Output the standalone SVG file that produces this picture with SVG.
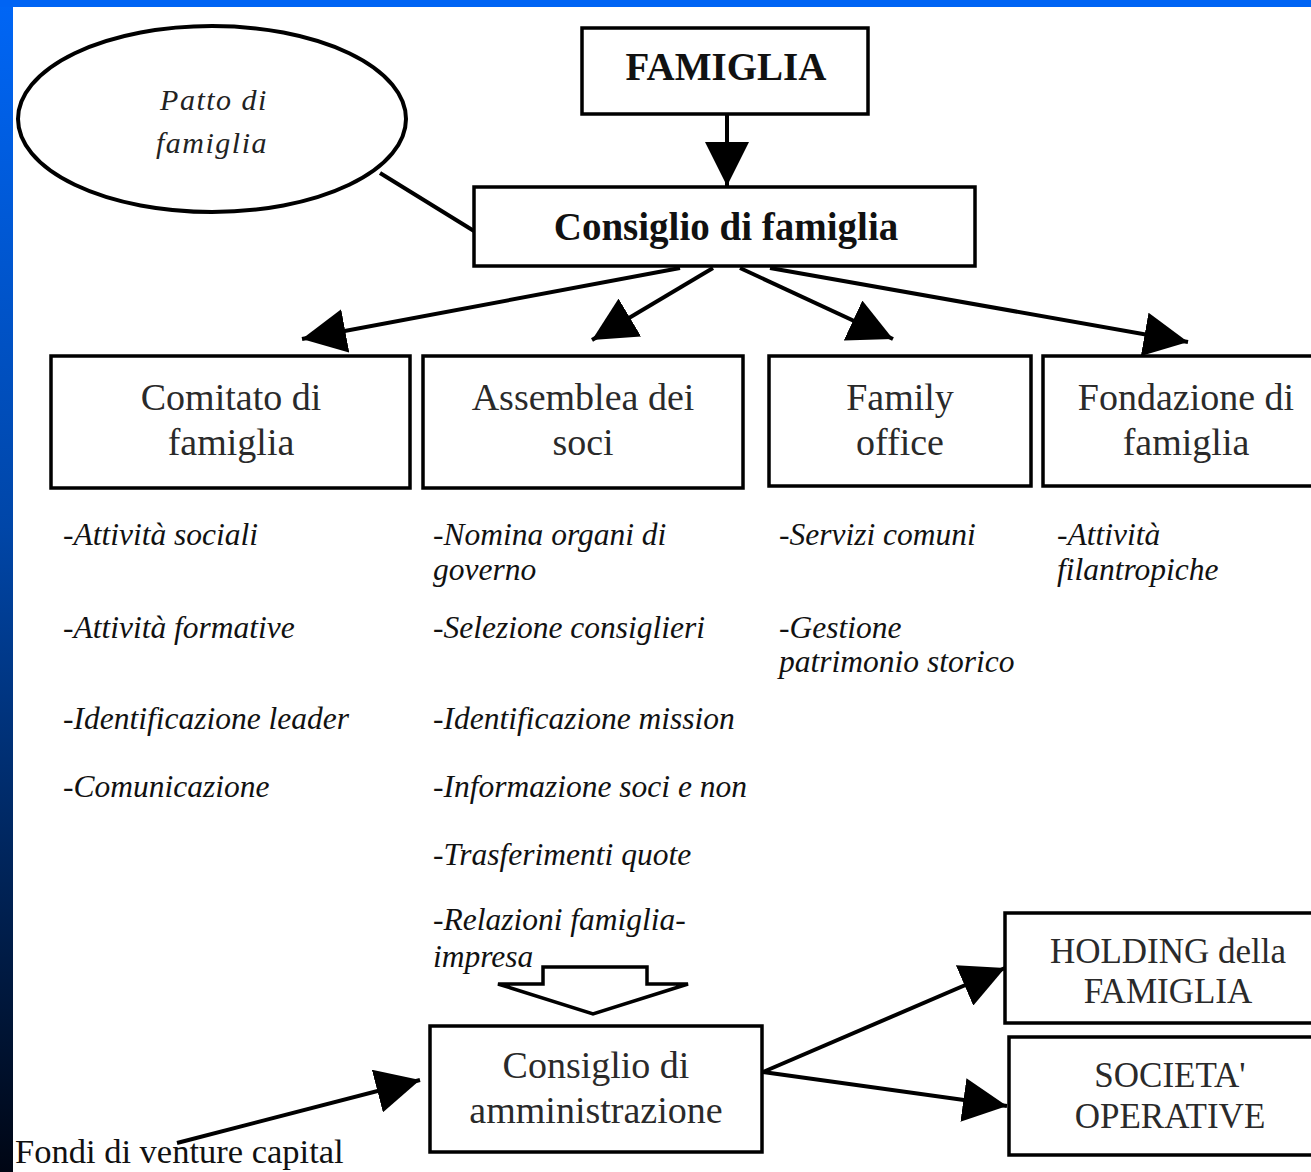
<svg xmlns="http://www.w3.org/2000/svg" width="1311" height="1172" viewBox="0 0 1311 1172">
  <defs>
    <linearGradient id="bg" x1="0" y1="0" x2="0" y2="1">
      <stop offset="0" stop-color="#0066f6"/>
      <stop offset="0.45" stop-color="#0046a8"/>
      <stop offset="1" stop-color="#000614"/>
    </linearGradient>
    <marker id="ah" viewBox="0 0 44 44" refX="44" refY="22" markerWidth="44" markerHeight="44" markerUnits="userSpaceOnUse" orient="auto">
      <path d="M0,0 L44,22 L0,44 z" fill="#000"/>
    </marker>
    <style>
      .box { fill: #fff; stroke: #000; stroke-width: 3.5; }
      .conn { stroke: #000; stroke-width: 4; fill: none; }
      .arrow { stroke: #000; stroke-width: 4; fill: none; marker-end: url(#ah); }
      .title { font-family: "Liberation Serif", "Times New Roman", serif; font-weight: bold; font-size: 39px; fill: #111; text-anchor: middle; }
      .lbl { font-family: "Liberation Serif", "Times New Roman", serif; font-size: 38px; fill: #2a2a2a; text-anchor: middle; }
      .lbl2 { font-family: "Liberation Serif", "Times New Roman", serif; font-size: 35px; fill: #2a2a2a; text-anchor: middle; }
      .item { font-family: "Liberation Serif", "Times New Roman", serif; font-style: italic; font-size: 31.5px; fill: #111; }
      .patto { font-family: "Liberation Serif", "Times New Roman", serif; font-style: italic; font-size: 30px; fill: #222; text-anchor: middle; letter-spacing: 1.5px; }
      .fondi { font-family: "Liberation Serif", "Times New Roman", serif; font-size: 34.5px; fill: #111; }
    </style>
  </defs>

  <rect x="0" y="0" width="1311" height="1172" fill="url(#bg)"/>
  <rect x="0" y="0" width="1311" height="7" fill="#0064f4"/>
  <rect x="13" y="7" width="1298" height="1165" fill="#fff"/>

  <g id="connectors">
    <line class="conn" x1="380" y1="173" x2="474" y2="231"/>
    <line class="arrow" x1="727" y1="114" x2="727" y2="186"/>
    <line class="arrow" x1="680" y1="268" x2="302" y2="339"/>
    <line class="arrow" x1="713" y1="268" x2="592" y2="340"/>
    <line class="arrow" x1="740" y1="268" x2="893" y2="339"/>
    <line class="arrow" x1="770" y1="268" x2="1188" y2="342"/>
    <line class="arrow" x1="763" y1="1072" x2="1005" y2="968"/>
    <line class="arrow" x1="763" y1="1072" x2="1007" y2="1106"/>
    <line class="arrow" x1="177" y1="1143" x2="420" y2="1080"/>
    <polygon id="block-arrow" points="543,967 647,967 647,984 688,984 593,1014 498,984 543,984" fill="#fff" stroke="#000" stroke-width="3.5" stroke-linejoin="miter"/>
  </g>

  <g id="patto">
    <ellipse cx="212" cy="119" rx="194" ry="93" fill="#fff" stroke="#000" stroke-width="4"/>
    <text class="patto" x="214" y="110">Patto di</text>
    <text class="patto" x="212" y="153">famiglia</text>
  </g>

  <g id="famiglia">
    <rect class="box" x="582" y="28" width="286" height="86"/>
    <text class="title" x="726" y="80">FAMIGLIA</text>
  </g>

  <g id="consiglio-famiglia">
    <rect class="box" x="474" y="187" width="501" height="79"/>
    <text class="title" x="726" y="240">Consiglio di famiglia</text>
  </g>

  <g id="comitato">
    <rect class="box" x="51" y="356" width="359" height="132"/>
    <text class="lbl" x="231" y="410">Comitato di</text>
    <text class="lbl" x="231" y="455">famiglia</text>
  </g>

  <g id="assemblea">
    <rect class="box" x="423" y="356" width="320" height="132"/>
    <text class="lbl" x="583" y="410">Assemblea dei</text>
    <text class="lbl" x="583" y="455">soci</text>
  </g>

  <g id="family-office">
    <rect class="box" x="769" y="356" width="262" height="130"/>
    <text class="lbl" x="900" y="410">Family</text>
    <text class="lbl" x="900" y="455">office</text>
  </g>

  <g id="fondazione">
    <rect class="box" x="1043" y="356" width="280" height="130"/>
    <text class="lbl" x="1186" y="410">Fondazione di</text>
    <text class="lbl" x="1186" y="455">famiglia</text>
  </g>

  <g id="list-comitato">
    <text class="item" x="63" y="545">-Attività sociali</text>
    <text class="item" x="63" y="638">-Attività formative</text>
    <text class="item" x="63" y="729">-Identificazione leader</text>
    <text class="item" x="63" y="797">-Comunicazione</text>
  </g>

  <g id="list-assemblea">
    <text class="item" x="433" y="545">-Nomina organi di</text>
    <text class="item" x="433" y="580">governo</text>
    <text class="item" x="433" y="638">-Selezione consiglieri</text>
    <text class="item" x="433" y="729">-Identificazione mission</text>
    <text class="item" x="433" y="797">-Informazione soci e non</text>
    <text class="item" x="433" y="865">-Trasferimenti quote</text>
    <text class="item" x="433" y="930">-Relazioni famiglia-</text>
    <text class="item" x="433" y="967">impresa</text>
  </g>

  <g id="list-family-office">
    <text class="item" x="779" y="545">-Servizi comuni</text>
    <text class="item" x="779" y="638">-Gestione</text>
    <text class="item" x="779" y="672">patrimonio storico</text>
  </g>

  <g id="list-fondazione">
    <text class="item" x="1057" y="545">-Attività</text>
    <text class="item" x="1057" y="580">filantropiche</text>
  </g>

  <g id="consiglio-amministrazione">
    <rect class="box" x="430" y="1026" width="332" height="126"/>
    <text class="lbl" x="596" y="1078">Consiglio di</text>
    <text class="lbl" x="596" y="1123">amministrazione</text>
  </g>

  <g id="holding">
    <rect class="box" x="1005" y="913" width="320" height="110"/>
    <text class="lbl2" x="1168" y="963">HOLDING della</text>
    <text class="lbl2" x="1168" y="1003">FAMIGLIA</text>
  </g>

  <g id="societa">
    <rect class="box" x="1009" y="1037" width="316" height="118"/>
    <text class="lbl2" x="1170" y="1087">SOCIETA'</text>
    <text class="lbl2" x="1170" y="1128">OPERATIVE</text>
  </g>

  <g id="fondi">
    <text class="fondi" x="15" y="1163">Fondi di venture capital</text>
  </g>
</svg>
